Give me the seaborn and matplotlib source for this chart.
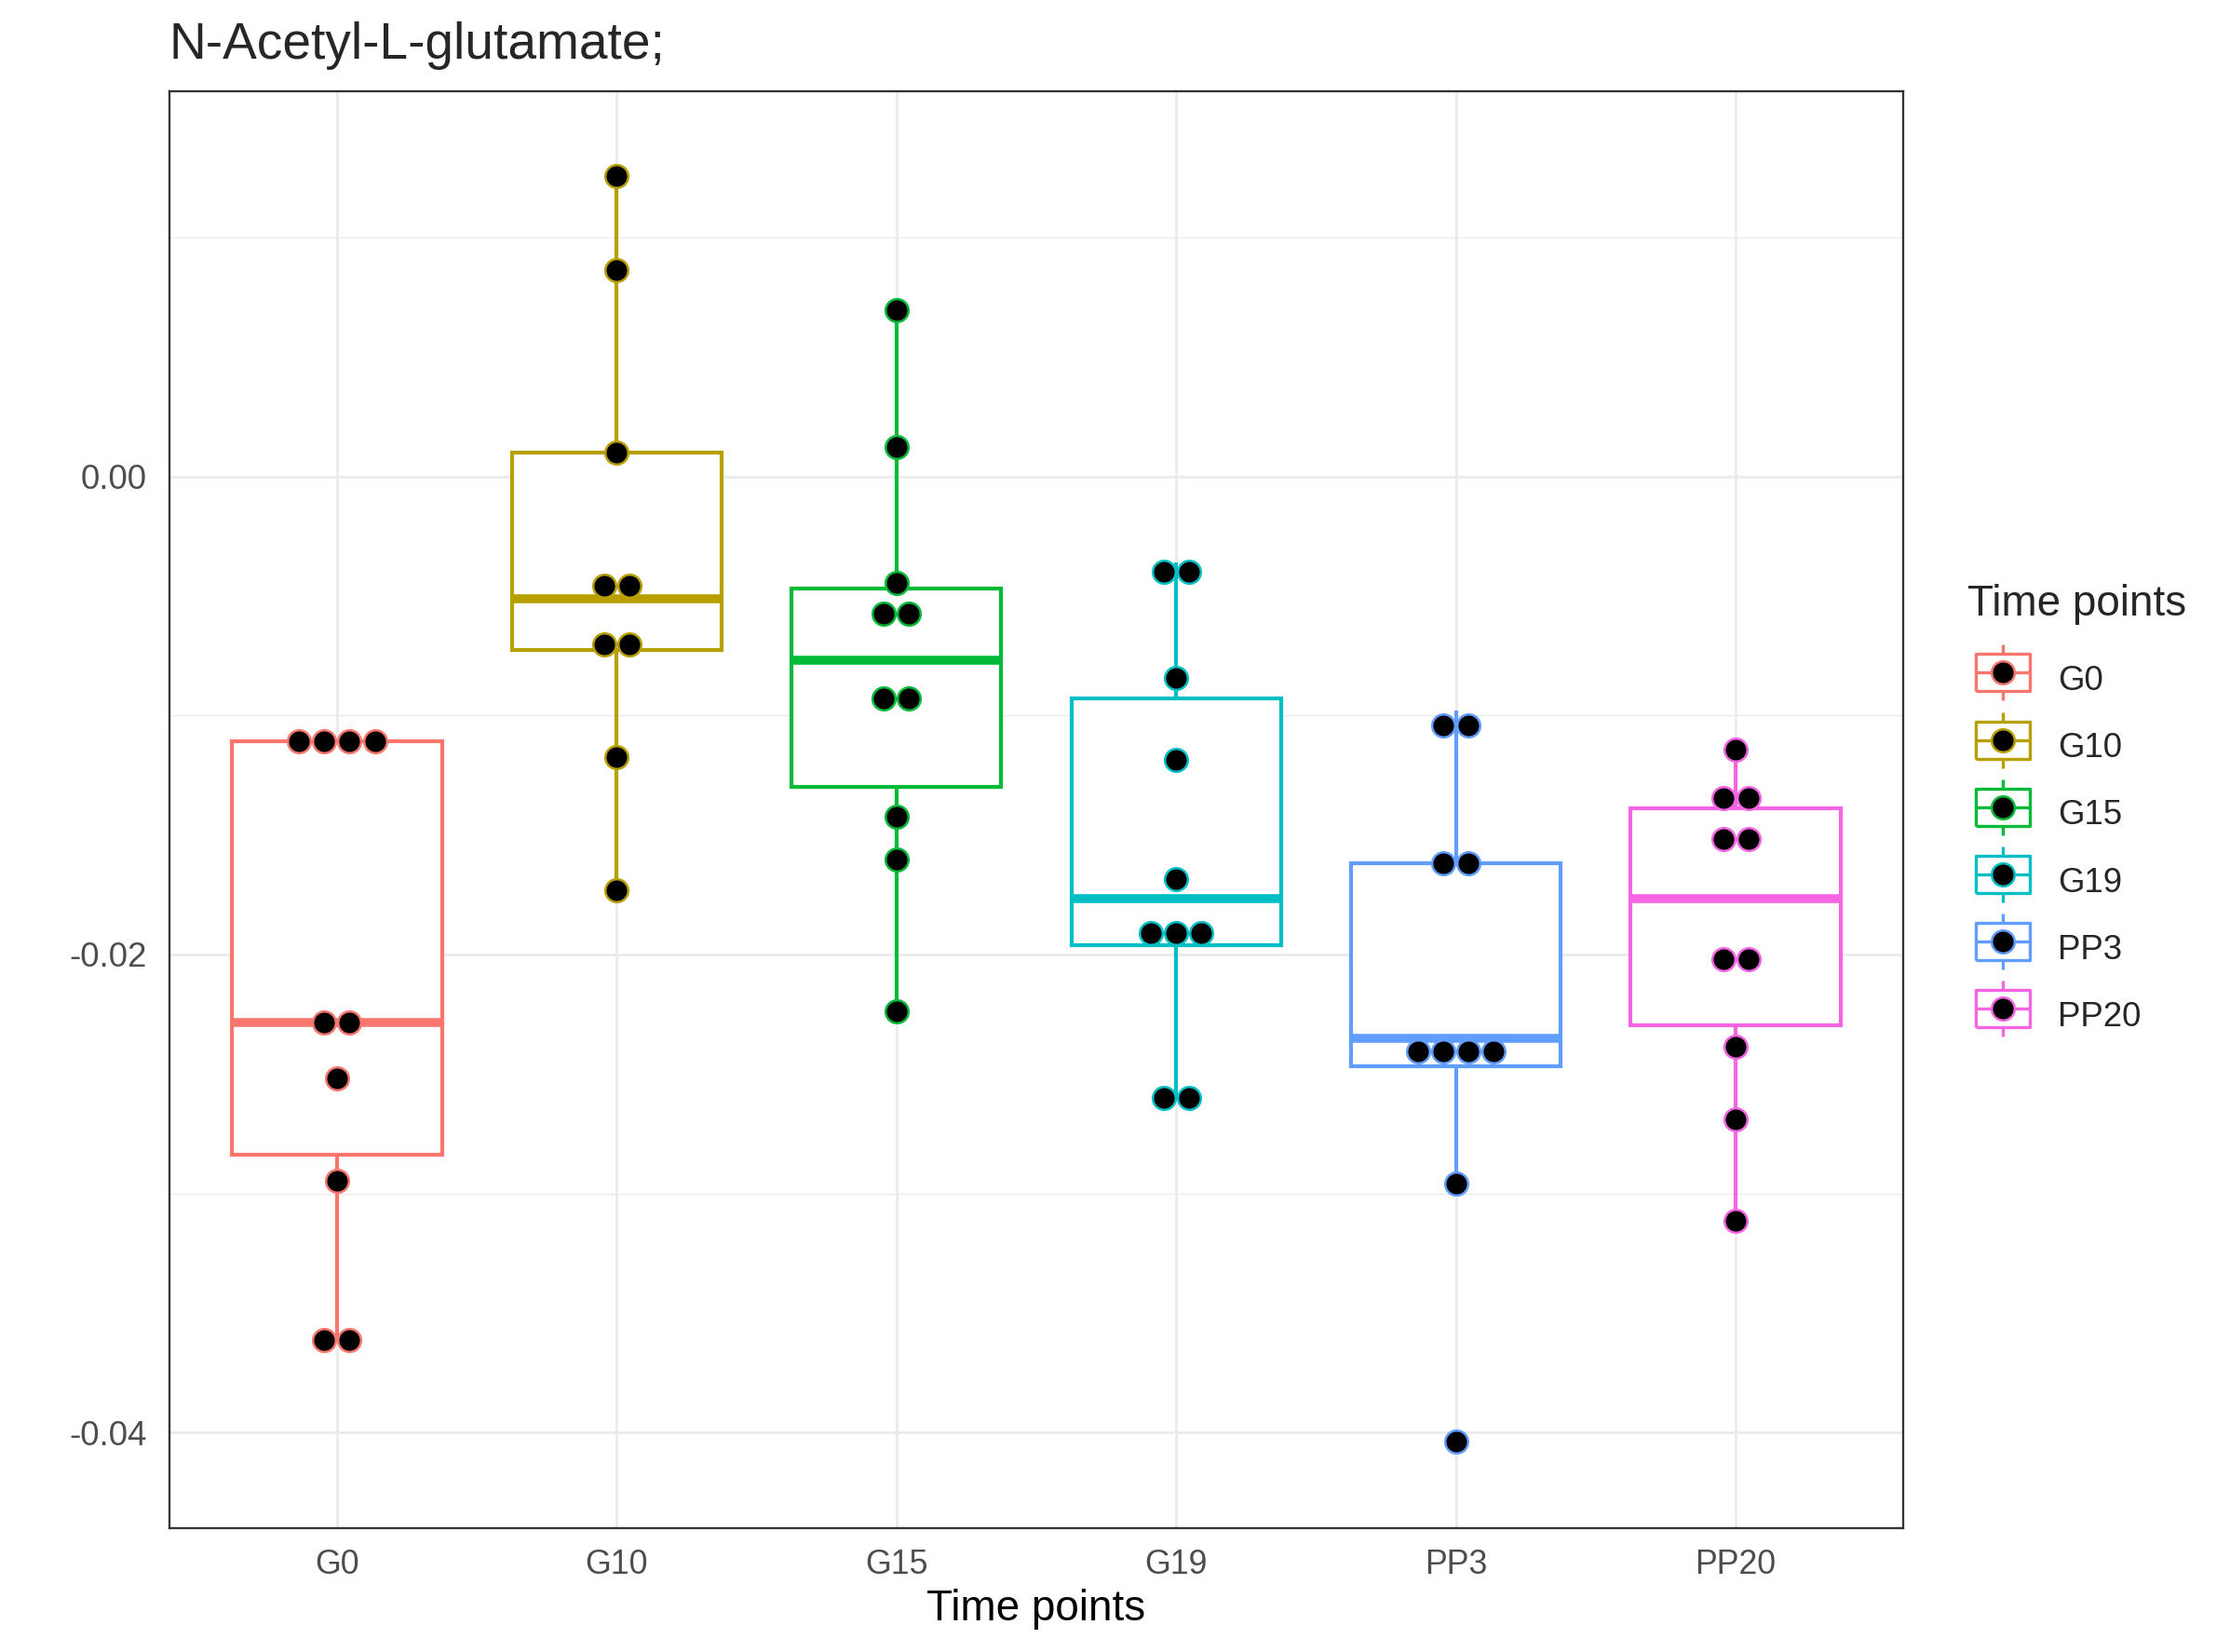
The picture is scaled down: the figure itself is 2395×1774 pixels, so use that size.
import matplotlib
matplotlib.use("Agg")
import matplotlib.pyplot as plt
from matplotlib.lines import Line2D
from matplotlib.legend_handler import HandlerTuple
from matplotlib.ticker import FormatStrFormatter, FixedLocator
import numpy as np
import pandas as pd
import seaborn as sns

time_points = ["G0", "G10", "G15", "G19", "PP3", "PP20"]
colors = ["#F8766D", "#B79F00", "#00BA38", "#00BFC4", "#619CFF", "#F564E3"]

# values
g0 = [-0.01107, -0.01107, -0.01107, -0.01107, -0.02286, -0.02286, -0.02518, -0.02946, -0.03613, -0.03613]
g10 = [0.01256, 0.00863, 0.00101, -0.00404, -0.00512, -0.00678, -0.00726, -0.01173, -0.01732]
g15 = [0.00696, 0.00125, -0.00446, -0.0054, -0.0061, -0.00929, -0.00929, -0.01423, -0.01601, -0.02238]
g19 = [-0.0036, -0.0044, -0.00845, -0.01185, -0.01685, -0.0185, -0.0193, -0.0197, -0.02601, -0.02601]
pp3 = [-0.0098, -0.011, -0.01619, -0.01619, -0.0234, -0.0236, -0.0246, -0.0247, -0.02958, -0.04036]
pp20 = [-0.01143, -0.01345, -0.01345, -0.01518, -0.01518, -0.02018, -0.02018, -0.02387, -0.0269, -0.03113]

values = {"G0": g0, "G10": g10, "G15": g15, "G19": g19, "PP3": pp3, "PP20": pp20}
binwidth = 0.0015   # dotplot bin width
dot_step = 0.09     # horizontal spacing of stacked dots (category units)


def dot_density(vals, width):
    # same idea as geom_dotplot(method="dotdensity"): bins start at the
    # lowest value, dots are drawn at the middle of each bin
    vals = np.sort(np.asarray(vals, dtype=float))
    centers = np.empty_like(vals)
    start = 0
    for i in range(1, len(vals) + 1):
        if i == len(vals) or vals[i] >= vals[start] + width:
            centers[start:i] = (vals[start] + vals[i - 1]) / 2
            start = i
    return vals, centers


frames = []
for i, t in enumerate(time_points):
    v, cen = dot_density(values[t], binwidth)
    d = pd.DataFrame({"time": t, "value": v, "center": cen})
    d["n"] = d.groupby("center")["center"].transform("size")
    d["k"] = d.groupby("center").cumcount()
    d["x"] = i + (d["k"] - (d["n"] - 1) / 2) * dot_step
    frames.append(d)
df = pd.concat(frames, ignore_index=True)

sns.set_style("white")
plt.rcParams["font.family"] = ["Liberation Sans", "DejaVu Sans"]
plt.rcParams["axes.unicode_minus"] = False

fig = plt.figure(figsize=(2395 / 300, 1774 / 300), dpi=300)
ax = fig.add_axes([0.07587, 0.07497, 0.7777, 0.8696])

for t, c in zip(time_points, colors):
    sns.boxplot(data=df[df["time"] == t], x="time", y="value", order=time_points,
                color="white", linecolor=c, linewidth=1.0, width=0.75,
                showfliers=False, showcaps=False,
                medianprops={"linewidth": 2.3, "color": c},
                whiskerprops={"linewidth": 1.0, "color": c},
                ax=ax)

for t, c in zip(time_points, colors):
    sub = df[df["time"] == t]
    sns.scatterplot(data=sub, x="x", y="center", color="black", edgecolor=c,
                    s=5.9 ** 2, linewidth=0.6, ax=ax, zorder=4, legend=False)

ax.set_xlim(-0.6, 5.6)
ax.set_ylim(-0.0440, 0.0161)
ax.xaxis.set_major_locator(FixedLocator(range(len(time_points))))
ax.set_xticklabels(time_points)
ax.yaxis.set_major_locator(FixedLocator([-0.04, -0.02, 0.0]))
ax.yaxis.set_minor_locator(FixedLocator([-0.03, -0.01, 0.01]))
ax.yaxis.set_major_formatter(FormatStrFormatter("%.2f"))

ax.set_axisbelow(True)
ax.grid(which="major", axis="both", color="#EBEBEB", linewidth=0.65)
ax.grid(which="minor", axis="y", color="#EBEBEB", linewidth=0.33)

for s in ax.spines.values():
    s.set_visible(True)
    s.set_color("#333333")
    s.set_linewidth(0.55)

ax.tick_params(which="major", length=2.8, width=0.55, color="#333333", labelcolor="#4D4D4D")
ax.tick_params(which="minor", length=0)
ax.tick_params(axis="y", labelsize=8.8, pad=2.9)
ax.tick_params(axis="x", labelsize=8.6, pad=2.5)

ax.set_ylabel("")
ax.set_xlabel("Time points", fontsize=11, color="black")
ax.xaxis.label.set_va("baseline")
ax.xaxis.set_label_coords(0.5, -0.0642)

ax.set_title("N-Acetyl-L-glutamate;", loc="left", fontsize=13.2, pad=8.4)

# legend keys drawn like ggplot's boxplot key with a dot on top
rect = [(-1, -0.684), (1, -0.684), (1, 0.684), (-1, 0.684), (-1, -0.684)]
handles = []
for c in colors:
    whisk = Line2D([], [], marker="|", markersize=14.2, markeredgewidth=0.8, color=c, linestyle="none")
    box = Line2D([], [], marker=rect, markersize=13.7, markerfacecolor="white",
                 markeredgecolor=c, markeredgewidth=0.8, linestyle="none")
    med = Line2D([], [], marker="_", markersize=13.7, markeredgewidth=0.8, color=c, linestyle="none")
    dot = Line2D([], [], marker="o", markersize=5.9, markerfacecolor="black",
                 markeredgecolor=c, markeredgewidth=0.6, linestyle="none")
    handles.append((whisk, box, med, dot))

leg = ax.legend(handles, time_points, handler_map={tuple: HandlerTuple(ndivide=1)},
                title="Time points", loc="upper left", bbox_to_anchor=(0.8823, 0.6465),
                bbox_transform=fig.transFigure, frameon=False, handlelength=2.04,
                handleheight=1.80, labelspacing=0.55, handletextpad=0.6, borderpad=0,
                borderaxespad=0, prop={"size": 8.8},
                title_fontproperties={"size": 11}, alignment="left")
# wider gap between the legend title and the keys
leg._legend_box.sep = 7.8

fig.savefig("out.png", dpi=300)
